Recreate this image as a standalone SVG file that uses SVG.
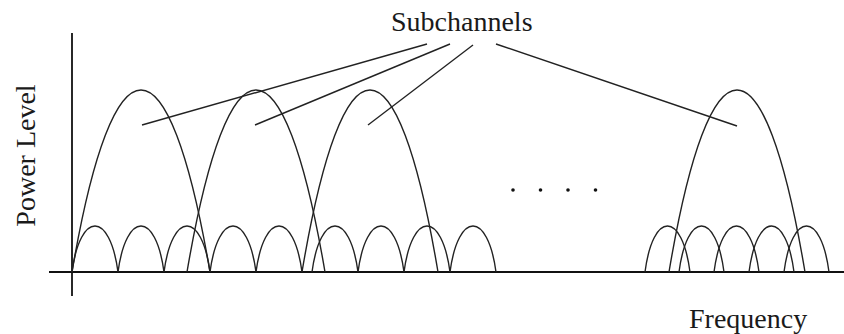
<svg xmlns="http://www.w3.org/2000/svg" width="844" height="334" viewBox="0 0 844 334">
<style>
.axis{stroke:#111;stroke-width:1.8;fill:none}
.arch{stroke:#222;stroke-width:1.4;fill:none}
.lead{stroke:#222;stroke-width:1.4;fill:none}
.lbl{font-family:"Liberation Serif","Times New Roman",serif;font-size:28px;fill:#1a1a1a}
.dot{fill:#111}
</style>
<rect width="844" height="334" fill="#fff"/>
<g id="axes">
<line class="axis" x1="72" y1="33" x2="72" y2="296"/>
<line class="axis" x1="49" y1="272" x2="844" y2="272"/>
</g>
<g id="label-power"><text class="lbl" text-anchor="middle" transform="translate(35,155.5) rotate(-90)">Power Level</text></g>
<g id="label-frequency"><text class="lbl" x="689" y="328">Frequency</text></g>
<g id="label-subchannels"><text class="lbl" x="391" y="31">Subchannels</text></g>
<g id="main-lobes">
<path class="arch" d="M72 272C113.4 29.3 168.6 29.3 210 272"/>
<path class="arch" d="M187 272C228.4 29.3 283.6 29.3 325 272"/>
<path class="arch" d="M302 272C342.8 29.3 397.2 29.3 438 272"/>
<path class="arch" d="M669 272C709.8 29.3 764.2 29.3 805 272"/>
</g>
<g id="side-lobes-left">
<path class="arch" d="M72 272C80.3 210.7 109.7 210.7 118 272"/>
<path class="arch" d="M118 272C126.3 210.7 155.7 210.7 164 272"/>
<path class="arch" d="M164 272C172.3 210.7 201.7 210.7 210 272"/>
<path class="arch" d="M210 272C218.3 210.7 247.7 210.7 256 272"/>
<path class="arch" d="M256 272C264.3 210.7 293.7 210.7 302 272"/>
<path class="arch" d="M312 272C320.3 210.7 349.7 210.7 358 272"/>
<path class="arch" d="M358 272C366.3 210.7 395.7 210.7 404 272"/>
<path class="arch" d="M404 272C412.3 210.7 441.7 210.7 450 272"/>
<path class="arch" d="M450 272C458.3 210.7 487.7 210.7 496 272"/>
</g>
<g id="side-lobes-right">
<path class="arch" d="M645 272C653.1 210.7 681.9 210.7 690 272"/>
<path class="arch" d="M679 272C687.1 210.7 715.9 210.7 724 272"/>
<path class="arch" d="M714 272C722.1 210.7 750.9 210.7 759 272"/>
<path class="arch" d="M749 272C757.1 210.7 785.9 210.7 794 272"/>
<path class="arch" d="M784 272C792.1 210.7 820.9 210.7 829 272"/>
</g>
<g id="ellipsis">
<circle class="dot" cx="513" cy="190" r="1.8"/>
<circle class="dot" cx="540.5" cy="190" r="1.8"/>
<circle class="dot" cx="568" cy="190" r="1.8"/>
<circle class="dot" cx="595.5" cy="190" r="1.8"/>
</g>
<g id="connectors">
<line class="lead" x1="427" y1="44" x2="142" y2="125"/>
<line class="lead" x1="450" y1="44" x2="255" y2="125"/>
<line class="lead" x1="473" y1="45" x2="368" y2="125"/>
<line class="lead" x1="496" y1="44" x2="737" y2="126"/>
</g>
</svg>
